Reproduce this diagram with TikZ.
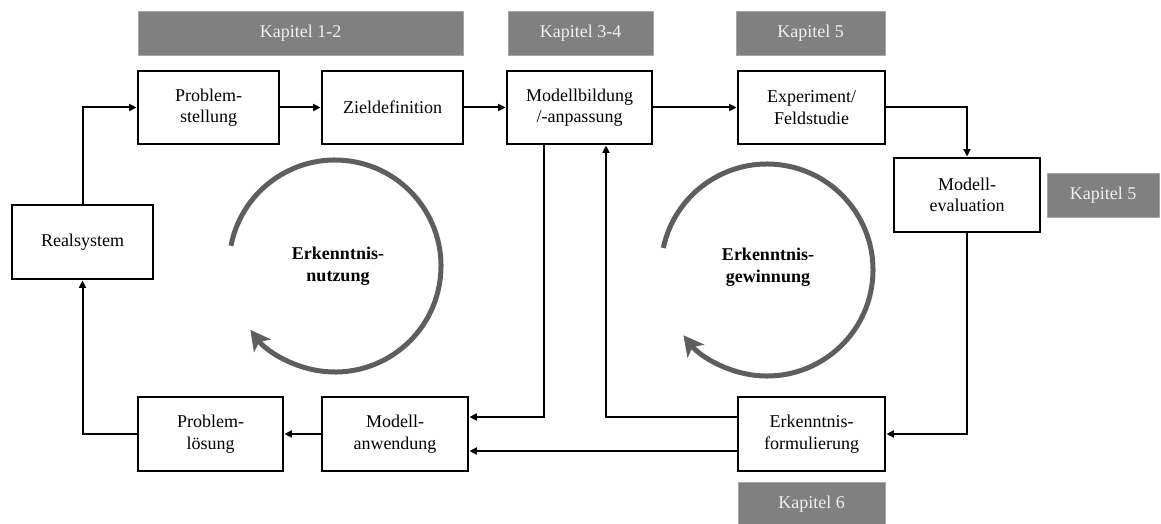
\documentclass[tikz,border=0pt]{standalone}
\usepackage{fontspec}
\setmainfont{Liberation Serif}
\usetikzlibrary{arrows.meta}
\definecolor{chapfill}{HTML}{808080}
\definecolor{chapline}{HTML}{A6A6A6}
\definecolor{chaptext}{HTML}{F0F0F0}
\definecolor{cyclegray}{HTML}{5E5E5E}
\begin{document}
\begin{tikzpicture}[x=1pt,y=-1pt,
  stepbox/.style={draw=black,line width=2.8pt,fill=white,align=center,
    inner sep=0pt,font=\fontsize{18}{21.5}\selectfont},
  chapbox/.style={fill=chapfill,draw=chapline,line width=0.8pt,inner sep=0pt,
    minimum height=44pt,text=chaptext,font=\fontsize{18}{21.5}\selectfont},
  conn/.style={line width=2pt,-{Triangle[length=7.5pt,width=7pt]}},
  cycle/.style={line width=5pt,draw=cyclegray,
    -{Stealth[length=20pt,width=21pt,inset=5pt]}},
  cyclelabel/.style={font=\bfseries\fontsize{18}{22}\selectfont,align=center}]
\useasboundingbox (0,0) rectangle (1161,524);

% chapter labels
\node[chapbox,minimum width=325pt] (k12) at (300.5,33.5) {Kapitel 1-2};
\node[chapbox,minimum width=145pt] (k34) at (580.5,33.5) {Kapitel 3-4};
\node[chapbox,minimum width=149pt] (k5a) at (810.5,33.5) {Kapitel 5};
\node[chapbox,minimum width=112pt] (k5b) at (1103,195.5) {Kapitel 5};
\node[chapbox,minimum width=147pt] (k6) at (811.5,504) {Kapitel 6};

% process steps
\node[stepbox,minimum width=141pt,minimum height=74pt] (rs) at (82.5,242) {Realsystem};
\node[stepbox,minimum width=141pt,minimum height=73pt] (ps) at (208.5,107.5) {Problem-\\stellung};
\node[stepbox,minimum width=141pt,minimum height=73pt] (zd) at (392.5,107.5) {Zieldefinition};
\node[stepbox,minimum width=145pt,minimum height=73pt] (mb) at (579.5,107.5) {Modellbildung\\/-anpassung};
\node[stepbox,minimum width=147pt,minimum height=73pt] (ex) at (811.5,107.5) {Experiment/\\Feldstudie};
\node[stepbox,minimum width=146pt,minimum height=74pt] (me) at (967,195) {Modell-\\evaluation};
\node[stepbox,minimum width=145pt,minimum height=74pt] (pl) at (210.5,434) {Problem-\\lösung};
\node[stepbox,minimum width=146pt,minimum height=74pt] (ma) at (395,434) {Modell-\\anwendung};
\node[stepbox,minimum width=147pt,minimum height=74pt] (ef) at (811.5,434) {Erkenntnis-\\formulierung};

% connectors
\draw[conn] (rs.north) |- (ps.west);
\draw[conn] (ps) -- (zd);
\draw[conn] (zd) -- (mb);
\draw[conn] (mb) -- (ex);
\draw[conn] (ex.east) -| (me.north);
\draw[conn] (me.south) |- (ef.east);
\draw[conn] ([xshift=-36pt]mb.south) |- ([yshift=17pt]ma.east);
\draw[conn] ([yshift=17pt]ef.west) -| ([xshift=26.5pt]mb.south);
\draw[conn] ([yshift=-17pt]ef.west) -- ([yshift=-17pt]ma.east);
\draw[conn] (ma.west) -- (pl.east);
\draw[conn] (pl.west) -| (rs.south);

% knowledge cycles
\coordinate (cl) at (335,266);
\coordinate (cr) at (767,270);
\draw[cycle] ([shift={(169:106pt)}]cl) arc[start angle=169,end angle=-143,radius=106pt];
\draw[cycle] ([shift={(168:106pt)}]cr) arc[start angle=168,end angle=-142,radius=106pt];
\node[cyclelabel] (tl) at (338,266) {Erkenntnis-\\nutzung};
\node[cyclelabel] (tr) at (768,267) {Erkenntnis-\\gewinnung};
\end{tikzpicture}
\end{document}
